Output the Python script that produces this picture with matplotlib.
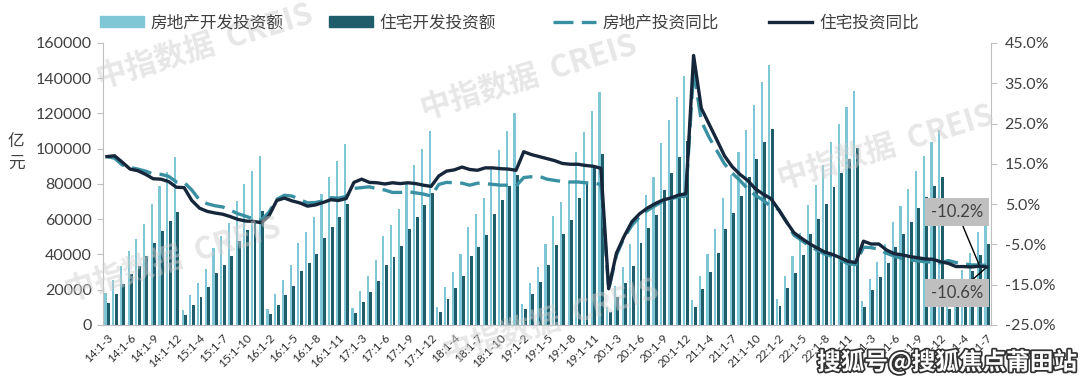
import numpy as np
import matplotlib.pyplot as plt
import matplotlib.patheffects as pe
from matplotlib.lines import Line2D
from matplotlib.patches import Patch

plt.rcParams['font.family'] = ['Lato', 'Noto Sans CJK SC', 'DejaVu Sans']

# ==========================================
# 데이터 (14:1-3 ~ 24:1-7, 누계)
# ==========================================
years = [14, 15, 16, 17, 18, 19, 20, 21, 22, 23, 24]
month_ends = [[3, 4, 5, 6, 7, 8, 9, 10, 11, 12]] + [[2, 3, 4, 5, 6, 7, 8, 9, 10, 11, 12]] * 9 + [[2, 3, 4, 5, 6, 7]]
labels = [f"{y}:1-{m}" for y, ms in zip(years, month_ends) for m in ms]

# 房地产开发投资额 (亿元)
total_inv = [
    18009, 25530, 33748, 42019, 48985, 57500, 68751, 78794, 86936, 95036,
    8786, 16750, 24000, 32000, 43955, 50648, 57800, 70535, 80041, 87300, 95979,
    9052, 17677, 25400, 34000, 46631, 53000, 61000, 74598, 84100, 93000, 102581,
    9854, 19292, 27700, 36800, 50610, 57000, 66000, 80644, 90500, 100000, 109799,
    10357, 21291, 30000, 40000, 55531, 63000, 72000, 88948, 99500, 110000, 120264,
    12090, 23803, 33000, 46075, 61609, 70000, 81000, 98008, 109603, 121265, 132194,
    10115, 21963, 33103, 45920, 62780, 74000, 84000, 103484, 116556, 129492, 141443,
    13986, 27576, 40240, 54318, 72179, 84895, 98000, 110903, 124934, 137688, 147602,
    14499, 27765, 39154, 52134, 68314, 79462, 90809, 103559, 113945, 123863, 132895,
    13669, 25974, 35514, 45701, 58550, 67717, 76900, 87269, 95922, 104045, 110913,
    11842, 22082, 30928, 40632, 52529, 60877,
]
# 住宅开发投资额 (亿元)
resid_inv = [
    12240, 17345, 23000, 28717, 33423, 39000, 46792, 53571, 59000, 64352,
    5914, 11178, 16000, 21500, 29647, 34000, 38900, 47400, 53700, 58600, 64595,
    6000, 11600, 16800, 22400, 30800, 35000, 40000, 49300, 55400, 61500, 68704,
    6600, 12800, 18500, 24700, 34200, 38600, 44600, 54700, 61500, 68000, 75148,
    7200, 14700, 21000, 28000, 38900, 44300, 51000, 63000, 71000, 78800, 85192,
    8800, 17300, 24400, 33800, 45167, 51400, 59500, 72146, 80900, 89300, 97071,
    7400, 16000, 24000, 33700, 46350, 55000, 62400, 76600, 86000, 95500, 104446,
    10467, 20624, 30000, 40600, 54244, 63700, 73000, 83685, 94273, 104000, 111173,
    10819, 20761, 29339, 39521, 51804, 60246, 68878, 78556, 86432, 94000, 100646,
    10315, 19767, 27072, 34897, 44439, 51484, 58500, 66279, 72823, 79000, 83820,
    8820, 16585, 23355, 30664, 39883, 46230,
]
# 房地产投资同比 (%)
total_yoy = [
    16.8, 16.4, 14.7, 14.1, 13.7, 13.2, 12.5, 12.4, 11.9, 10.5,
    10.4, 8.5, 6.0, 5.1, 4.6, 4.3, 3.5, 2.6, 2.0, 1.3, 1.0,
    3.0, 6.2, 7.2, 7.0, 6.1, 5.3, 5.4, 5.8, 6.6, 6.5, 6.9,
    8.9, 9.1, 9.3, 8.8, 8.5, 7.9, 7.9, 8.1, 7.8, 7.5, 7.0,
    9.9, 10.4, 10.3, 10.2, 9.7, 10.2, 10.1, 9.9, 9.7, 9.7, 9.5,
    11.6, 11.8, 11.9, 11.2, 10.9, 10.6, 10.5, 10.5, 10.3, 10.2, 9.9,
    -16.3, -7.7, -3.3, -0.3, 1.9, 3.4, 4.6, 5.6, 6.3, 6.8, 7.0,
    38.3, 25.6, 21.6, 18.3, 15.0, 12.7, 10.9, 8.8, 7.2, 6.0, 4.4,
    3.7, 0.7, -2.7, -4.0, -5.4, -6.4, -7.4, -8.0, -8.8, -9.8, -10.0,
    -5.7, -5.8, -6.2, -7.2, -7.9, -8.5, -8.8, -9.1, -9.3, -9.4, -9.6,
    -9.0, -9.5, -9.8, -10.1, -10.1, -10.2,
]
# 住宅投资同比 (%)
resid_yoy = [
    16.8, 17.0, 15.4, 13.7, 13.3, 12.4, 11.3, 11.2, 10.6, 9.2,
    9.1, 5.9, 4.0, 3.2, 2.8, 2.5, 1.9, 1.2, 0.8, 0.7, 0.4,
    2.1, 5.9, 6.5, 5.8, 5.3, 4.5, 4.8, 5.4, 6.1, 5.9, 6.4,
    10.4, 11.2, 10.4, 10.3, 10.0, 10.3, 10.1, 10.3, 10.1, 9.7, 9.4,
    12.0, 13.2, 13.5, 14.2, 13.6, 13.4, 14.0, 14.0, 13.8, 13.7, 13.4,
    18.0, 17.3, 16.8, 16.3, 15.8, 15.1, 14.9, 14.9, 14.6, 14.4, 13.9,
    -16.0, -7.2, -3.0, 0.6, 2.6, 4.0, 5.1, 6.0, 6.5, 7.2, 7.6,
    41.9, 28.8, 24.9, 21.0, 17.0, 14.3, 12.4, 10.9, 8.8, 7.5, 6.4,
    3.7, 0.7, -2.1, -3.5, -4.8, -5.9, -6.9, -7.5, -8.3, -9.2, -9.5,
    -4.2, -4.9, -4.9, -6.4, -7.3, -7.6, -8.0, -8.3, -8.6, -8.7, -9.3,
    -9.7, -10.5, -10.5, -10.6, -10.4, -10.6,
]

# ==========================================
# 스타일
# ==========================================
C_LIGHT = '#7fc7d6'
C_DARK = '#1f5d6b'
C_DASH = '#3a90a3'
C_SOLID = '#16263b'
C_TEXT = '#404040'
C_AXIS = '#bfbfbf'

x = np.arange(len(labels))

fig = plt.figure(figsize=(10.8, 3.88), dpi=100)
ax = fig.add_axes([0.0954, 0.1624, 0.822, 0.7268])

ax.bar(x - 0.19, total_inv, width=0.28, color=C_LIGHT, zorder=2)
ax.bar(x + 0.19, resid_inv, width=0.38, color=C_DARK, zorder=2)

ax.set_xlim(-0.5, len(labels) - 0.5)
ax.set_ylim(0, 160000)
ax.set_yticks(range(0, 160001, 20000))
ax.set_xticks(x[::3])
ax.set_xticklabels(labels[::3], rotation=45, ha='right', rotation_mode='anchor', fontsize=8.5, color='#303030')
ax.tick_params(axis='x', length=0, pad=5)
ax.tick_params(axis='y', labelsize=11.5, colors=C_TEXT, length=4, color=C_AXIS, pad=4)
for s in ['top', 'right']:
    ax.spines[s].set_visible(False)
for s in ['left', 'bottom']:
    ax.spines[s].set_color(C_AXIS)

ax2 = ax.twinx()
ax2.plot(x, total_yoy, color=C_DASH, lw=2.4, dashes=(6, 2.5), solid_joinstyle='round', zorder=3)
ax2.plot(x, resid_yoy, color=C_SOLID, lw=2.4, solid_joinstyle='round', zorder=4)
ax2.set_ylim(-25, 45)
ax2.set_yticks(range(-25, 46, 10))
ax2.set_yticklabels([f"{v:.1f}%" for v in range(-25, 46, 10)])
ax2.tick_params(axis='y', labelsize=11.5, colors=C_TEXT, length=4, color=C_AXIS, pad=6)
for s in ['top', 'left', 'bottom']:
    ax2.spines[s].set_visible(False)
ax2.spines['right'].set_color(C_AXIS)

# 마지막 값 라벨
box = dict(boxstyle='square,pad=0.35', fc='#bfbfbf', ec='none')
ax2.annotate(f"{total_yoy[-1]:.1f}%", xy=(x[-1] - 1, total_yoy[-2]), xycoords='data',
             xytext=(0.962, 0.40), textcoords='axes fraction', ha='center', va='center',
             fontsize=12, color=C_TEXT, bbox=box,
             arrowprops=dict(arrowstyle='-', color='#000000', lw=1, shrinkA=0, shrinkB=0))
ax2.annotate(f"{resid_yoy[-1]:.1f}%", xy=(x[-1], resid_yoy[-1]), xycoords='data',
             xytext=(0.962, 0.113), textcoords='axes fraction', ha='center', va='center',
             fontsize=12, color=C_TEXT, bbox=box,
             arrowprops=dict(arrowstyle='-', color='#000000', lw=1, shrinkA=0, shrinkB=0))

# 축 단위
fig.text(0.015, 0.608, '亿\n元', fontsize=12, color=C_TEXT, ha='center', va='center', linespacing=1.4)

# 범례 (항목별 위치)
leg_items = [
    (Patch(color=C_LIGHT), '房地产开发投资额', 0.093),
    (Patch(color=C_DARK), '住宅开发投资额', 0.305),
    (Line2D([], [], color=C_DASH, lw=2.4, dashes=(6, 2.5)), '房地产投资同比', 0.512),
    (Line2D([], [], color=C_SOLID, lw=2.4), '住宅投资同比', 0.712),
]
for h, lab, xpos in leg_items:
    lg = fig.legend([h], [lab], loc='center left', bbox_to_anchor=(xpos, 0.943), frameon=False,
                    fontsize=12, handlelength=2.6, handleheight=0.6, handletextpad=0.4,
                    borderpad=0, borderaxespad=0)
    for t in lg.get_texts():
        t.set_color(C_TEXT)

# 워터마크
wm = dict(color='#cfcfcf', alpha=0.5, fontsize=22, fontweight='bold', rotation=17,
          ha='center', va='center', family=['Noto Sans CJK SC', 'DejaVu Sans'])
for cx, cy in [(0.49, 0.80), (0.19, 0.88), (0.16, 0.33), (0.51, 0.17), (0.82, 0.62)]:
    fig.text(cx, cy, '中指数据  CREIS', zorder=5, **wm)

fig.text(0.877, 0.067, '搜狐号@搜狐焦点莆田站', fontsize=17, color='white', ha='center', va='center',
         family=['Noto Sans CJK SC', 'DejaVu Sans'], fontweight='bold',
         path_effects=[pe.withStroke(linewidth=2.5, foreground='#333333')])

fig.savefig('out.png', dpi=100)
